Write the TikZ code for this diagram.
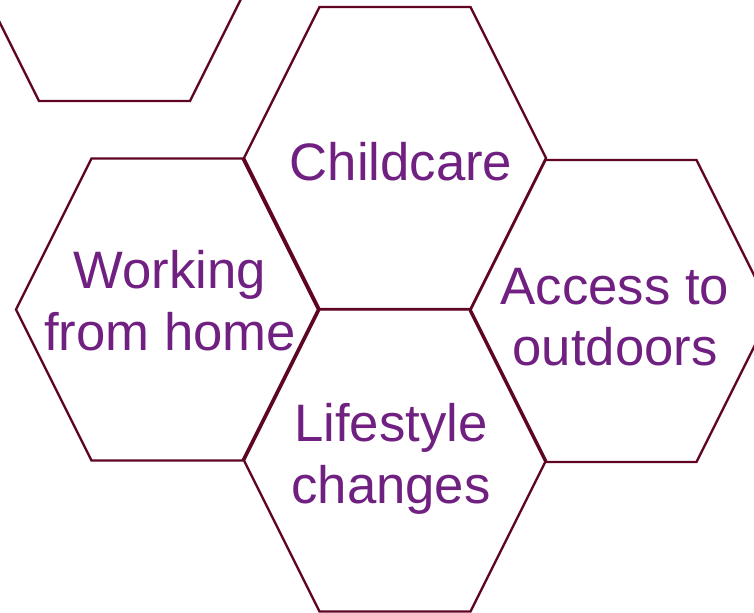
\documentclass[tikz,border=0pt]{standalone}
\usepackage{fontspec}
\setmainfont{Liberation Sans}
\usepackage{xcolor}
\definecolor{hexmaroon}{RGB}{95,5,35}
\definecolor{labelpurple}{RGB}{112,32,128}

\begin{document}
\begin{tikzpicture}[
    x=0.02cm, y=-0.02cm,
    hexcell/.pic={
        \draw[hexline] (-151,0) -- (-75.5,-151) -- (75.5,-151) -- (151,0)
            -- (75.5,151) -- (-75.5,151) -- cycle;
    },
    hexline/.style={draw=hexmaroon, line width=1.35pt, line join=miter},
    topic/.style={font=\fontsize{30}{35}\selectfont, text=labelpurple, align=center, inner sep=0pt},
]
    \useasboundingbox (0,0) rectangle (754,612);
    % cells, clipped at the page edge
    \begin{scope}
        \clip (0,0) rectangle (754,612);
        \pic at (114.5,-50) {hexcell};
        \pic at (395,158) {hexcell};
        \pic at (167,309.5) {hexcell};
        \pic at (621,311) {hexcell};
        \pic at (395,460.5) {hexcell};
    \end{scope}
    \node[topic] (childcare) at (401,162) {Childcare};
    \node[topic] (wfh) at (170,300.5) {Working\\from home};
    \node[topic] (outdoors) at (615,317) {Access to\\outdoors};
    \node[topic] (lifestyle) at (391,459) {Lifestyle\\changes};
\end{tikzpicture}
\end{document}
